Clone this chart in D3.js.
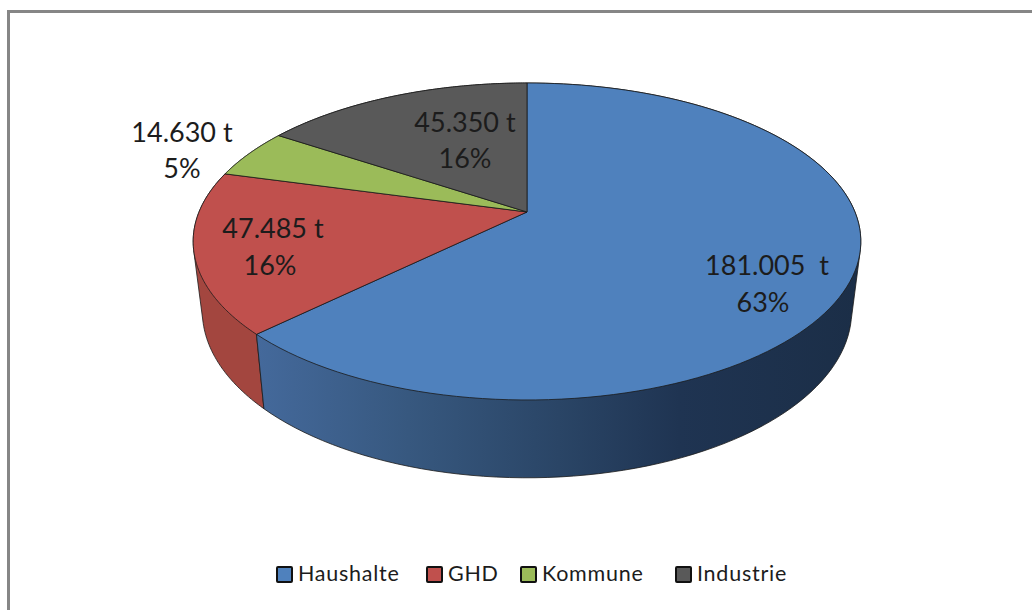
<!DOCTYPE html>
<html>
<head>
<meta charset="utf-8">
<script src="https://cdn.jsdelivr.net/npm/d3@7"></script>
<style>
  html, body { margin: 0; padding: 0; background: #fff; overflow: hidden; }
  text { font-family: Lato, "Open Sans", sans-serif; fill: #1c1c1c; white-space: pre; }
</style>
</head>
<body>
<script>
// data
const categories = ["Haushalte", "GHD", "Kommune", "Industrie"];
const tonnes = [181005, 47485, 14630, 45350];
const valueLabels = ["181.005  t", "47.485 t", "14.630 t", "45.350 t"];
const percentLabels = ["63%", "16%", "5%", "16%"];

// styling
const topColors = ["#4f81bd", "#c0504d", "#9bbb59", "#595959"];
const sideColors = ["#2a4668", "#a3463f", "#6f8a3e", "#3c3c3c"];
const labelCenters = [[767, 275], [273, 238], [182, 142], [465, 132]];
const percentCenters = [[763, 312], [270, 275], [182, 178], [465, 168]];
const legendSwatchX = [276, 426, 520, 675];

const width = 1032;
const height = 610;

const svg = d3.select("body").append("svg")
    .attr("width", width)
    .attr("height", height)
    .style("display", "block");

// frame runs off the right and bottom of the picture
svg.append("rect")
    .attr("x", 8.5).attr("y", 11.5)
    .attr("width", width + 20).attr("height", height + 20)
    .attr("fill", "#fff")
    .attr("stroke", "#868686")
    .attr("stroke-width", 3);

// perspective view of a circle: far edge shrinks, so the apex sits above the ellipse centre
const persp = 0.186;
const cx = 527;
const topFace = {A: 328, B: 153, cy: 212};
const bottomFace = {A: 319, B: 161, cy: 280};

function project(face, angle, r = 1) {
    const w = 1 + persp * r * Math.cos(angle);
    return [cx + face.A * r * Math.sin(angle) / w, face.cy - face.B * r * Math.cos(angle) / w];
}

const pie = d3.pie().sort(null).value(d => d);
const arcs = pie(tonnes);

function rim(face, a0, a1) {
    return d3.range(0, 121).map(i => project(face, a0 + (a1 - a0) * i / 120));
}

const line = d3.line();

// side wall gradient for the big slice
const defs = svg.append("defs");
const blueGrad = defs.append("linearGradient")
    .attr("id", "blueSide")
    .attr("gradientUnits", "userSpaceOnUse")
    .attr("x1", 258).attr("x2", 860).attr("y1", 0).attr("y2", 0);
[[0, "#44699b"], [0.25, "#37587f"], [0.5, "#2a4566"], [0.7, "#1f3452"], [1, "#1b2e47"]].forEach(s => {
    blueGrad.append("stop").attr("offset", s[0]).attr("stop-color", s[1]);
});

// hull of the two rims gives the straight tangent edge of the wall
const sides = svg.append("g");
sides.selectAll("path")
    .data(arcs.map((d, i) => ({d, i})).reverse())
    .enter().append("path")
    .attr("d", o => line(d3.polygonHull(rim(topFace, o.d.startAngle, o.d.endAngle)
        .concat(rim(bottomFace, o.d.endAngle, o.d.startAngle)))) + "Z")
    .attr("fill", o => o.i === 0 ? "url(#blueSide)" : sideColors[o.i])
    .attr("stroke", "#1a1a1a")
    .attr("stroke-width", 0.8)
    .attr("stroke-linejoin", "round");

const tops = svg.append("g");
tops.selectAll("path")
    .data(arcs)
    .enter().append("path")
    .attr("d", d => line([project(topFace, 0, 0)].concat(rim(topFace, d.startAngle, d.endAngle))) + "Z")
    .attr("fill", (d, i) => topColors[i])
    .attr("stroke", "#1a1a1a")
    .attr("stroke-width", 0.8)
    .attr("stroke-linejoin", "round");

// data labels
svg.selectAll(".val")
    .data(valueLabels)
    .enter().append("text")
    .attr("class", "val")
    .attr("x", (d, i) => labelCenters[i][0])
    .attr("y", (d, i) => labelCenters[i][1])
    .attr("text-anchor", "middle")
    .attr("font-size", 27)
    .text(d => d);

svg.selectAll(".pct")
    .data(percentLabels)
    .enter().append("text")
    .attr("class", "pct")
    .attr("x", (d, i) => percentCenters[i][0])
    .attr("y", (d, i) => percentCenters[i][1])
    .attr("text-anchor", "middle")
    .attr("font-size", 27)
    .text(d => d);

// legend
const legend = svg.selectAll(".legend")
    .data(categories)
    .enter().append("g")
    .attr("class", "legend")
    .attr("transform", (d, i) => `translate(${legendSwatchX[i]},566)`);

legend.append("rect")
    .attr("x", 1).attr("y", 1)
    .attr("width", 15).attr("height", 15)
    .attr("rx", 1)
    .attr("fill", (d, i) => topColors[i])
    .attr("stroke", "#111")
    .attr("stroke-width", 2);

legend.append("text")
    .attr("x", 22)
    .attr("y", 15)
    .attr("font-size", 21.5)
    .attr("letter-spacing", 0.75)
    .text(d => d);
</script>
</body>
</html>
